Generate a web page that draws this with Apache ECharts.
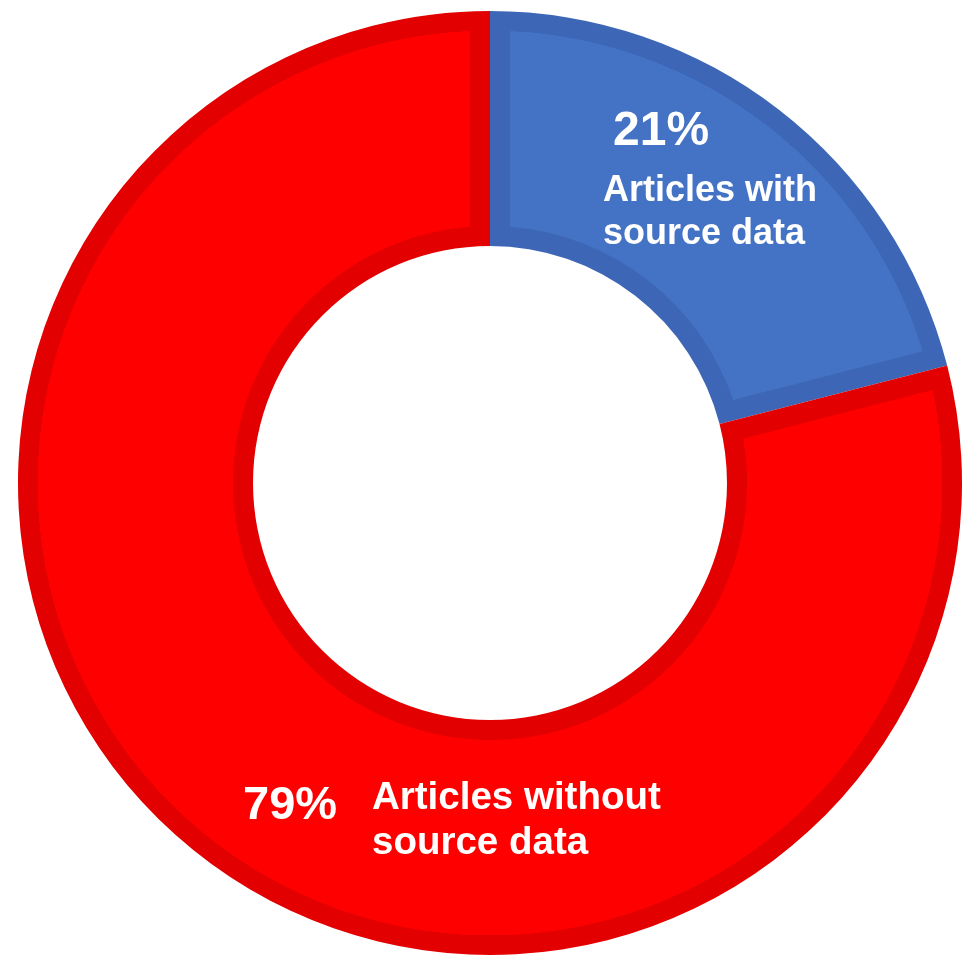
<!DOCTYPE html>
<html>
<head>
<meta charset="utf-8">
<script src="https://cdn.jsdelivr.net/npm/echarts@6/dist/echarts.min.js"></script>
<style>
  html, body { margin: 0; padding: 0; background: #ffffff; }
  #chart { width: 969px; height: 958px; }
</style>
</head>
<body>
<div id="chart"></div>
<script>
// Share of articles, split by whether source data was provided (percent)
const categories = ['Articles with\nsource data', 'Articles without\nsource data'];
const shares = [21, 79];

// slice colours: face and darker rim
const faceColors = ['#4472C4', '#FF0000'];
const rimColors = ['#3D67B6', '#E20000'];

const CENTER = [490, 483];
const R_OUTER = 472;
const R_INNER = 237;
const RIM = 20;          // rim width drawn inside every slice edge
const BAND = 6;          // radial step of the face bands

function sliceData(colors) {
  return categories.map((name, i) => ({
    name: name,
    value: shares[i],
    itemStyle: { color: colors[i] }
  }));
}

const base = {
  type: 'pie',
  center: CENTER,
  startAngle: 90,
  clockwise: true,
  silent: true,
  animation: false,
  label: { show: false },
  labelLine: { show: false },
  emphasis: { disabled: true }
};

const series = [];

// full ring in the rim colours
series.push(Object.assign({}, base, {
  radius: [R_INNER, R_OUTER],
  data: sliceData(rimColors)
}));

// slice faces, inset by RIM on all sides; stacked bands whose gap angle
// follows the radius keep the rim along the slice boundaries a constant width
const faceIn = R_INNER + RIM;
const faceOut = R_OUTER - RIM;
for (let r = faceIn; r < faceOut; r += BAND) {
  const mid = Math.min(r + BAND / 2, faceOut);
  const pad = 2 * Math.asin(RIM / mid) * 180 / Math.PI;
  series.push(Object.assign({}, base, {
    radius: [r, faceOut],
    padAngle: pad,
    data: sliceData(faceColors)
  }));
}

const clear = ['rgba(0,0,0,0)', 'rgba(0,0,0,0)'];
const textBase = {
  show: true,
  position: 'inside',
  color: '#ffffff',
  fontFamily: 'Liberation Sans, Arial, sans-serif',
  fontWeight: 'bold'
};

// percentage labels
const pctStyle = [
  { fontSize: 48, lineHeight: 56 },
  { fontSize: 47, lineHeight: 56 }
];
const pctPos = [[613, 104], [243, 778]];
series.push(Object.assign({}, base, {
  radius: [R_INNER, R_OUTER],
  data: sliceData(clear).map((d, i) => Object.assign(d, { label: pctStyle[i] })),
  label: Object.assign({}, textBase, { formatter: p => p.value + '%' }),
  labelLayout: p => ({ x: pctPos[p.dataIndex][0], y: pctPos[p.dataIndex][1], align: 'left', verticalAlign: 'top' })
}));

// category labels
const nameStyle = [
  { fontSize: 36, lineHeight: 43.5 },
  { fontSize: 38.5, lineHeight: 45 }
];
const namePos = [[603, 169], [372, 776]];
series.push(Object.assign({}, base, {
  radius: [R_INNER, R_OUTER],
  data: sliceData(clear).map((d, i) => Object.assign(d, { label: nameStyle[i] })),
  label: Object.assign({}, textBase, { formatter: p => p.name }),
  labelLayout: p => ({ x: namePos[p.dataIndex][0], y: namePos[p.dataIndex][1], align: 'left', verticalAlign: 'top' })
}));

const chart = echarts.init(document.getElementById('chart'), null, { renderer: 'canvas' });
chart.setOption({
  backgroundColor: '#ffffff',
  animation: false,
  series: series
});
</script>
</body>
</html>
